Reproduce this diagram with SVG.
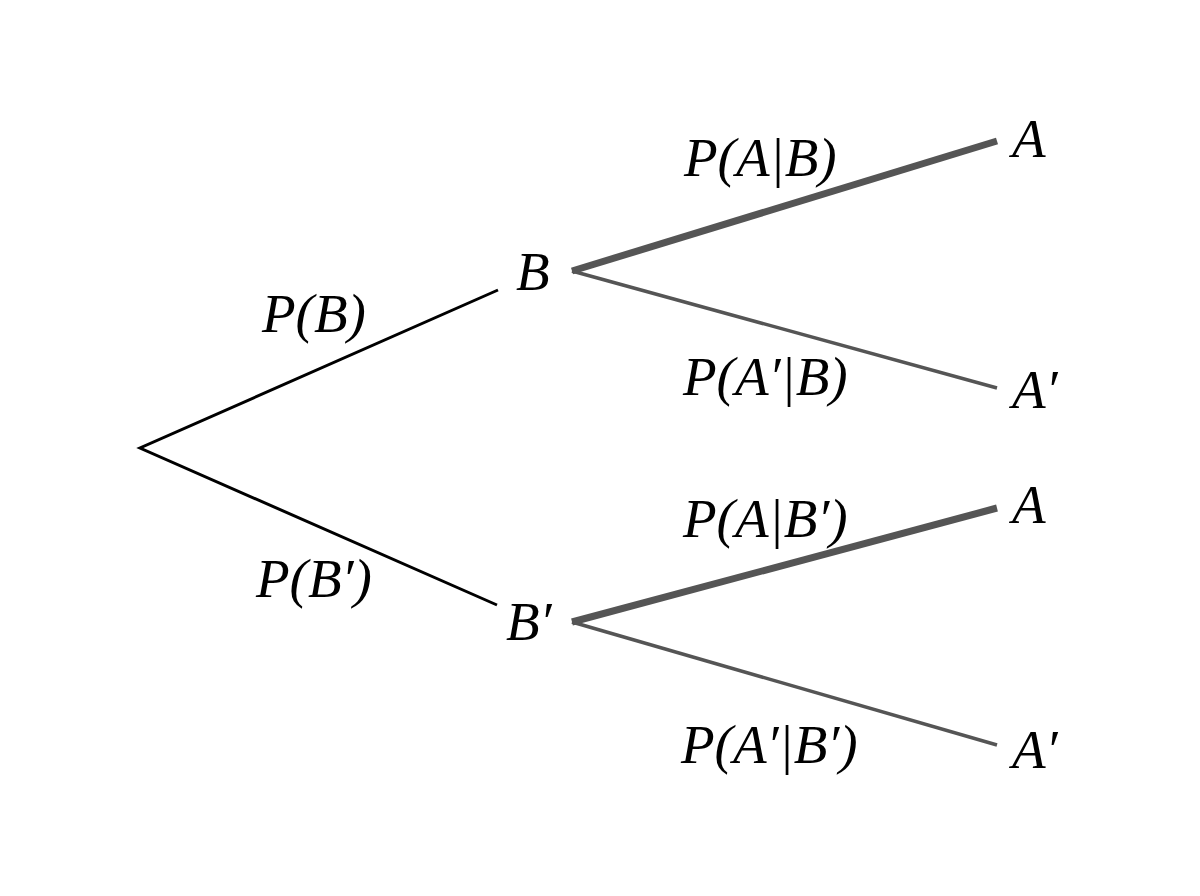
<svg xmlns="http://www.w3.org/2000/svg" width="1200" height="896" viewBox="0 0 1200 896">
<style>
  .t { font-family: "Liberation Serif", "DejaVu Serif", serif; font-style: italic; font-size: 55px; fill: #000; }
  .blk { stroke: #000; stroke-width: 3; fill: none; }
  .thin { stroke: #555; stroke-width: 3.5; fill: none; }
  .thick { stroke: #555; stroke-width: 7; fill: none; }
</style>
<rect width="1200" height="896" fill="#fff"/>
<g id="connectors">
  <polyline class="blk" points="498,290 140,448 497,605"/>
  <line class="thick" x1="572" y1="271" x2="997" y2="141"/>
  <line class="thin" x1="572" y1="271" x2="997" y2="388"/>
  <line class="thick" x1="572" y1="622" x2="997" y2="508"/>
  <line class="thin" x1="572" y1="622" x2="997" y2="745"/>
</g>
<g id="node-B"><text class="t" x="516" y="290">B</text></g>
<g id="node-Bp"><text class="t" x="506" y="640">B′</text></g>
<g id="node-A1"><text class="t" x="1012" y="157">A</text></g>
<g id="node-Ap1"><text class="t" x="1012" y="408">A′</text></g>
<g id="node-A2"><text class="t" x="1012" y="523">A</text></g>
<g id="node-Ap2"><text class="t" x="1012" y="768">A′</text></g>
<g id="labels">
  <text class="t" x="262" y="332">P(B)</text>
  <text class="t" x="256" y="597">P(B′)</text>
  <text class="t" x="684" y="176">P(A|B)</text>
  <text class="t" x="683" y="395">P(A′|B)</text>
  <text class="t" x="683" y="537">P(A|B′)</text>
  <text class="t" x="681" y="763">P(A′|B′)</text>
</g>
</svg>
